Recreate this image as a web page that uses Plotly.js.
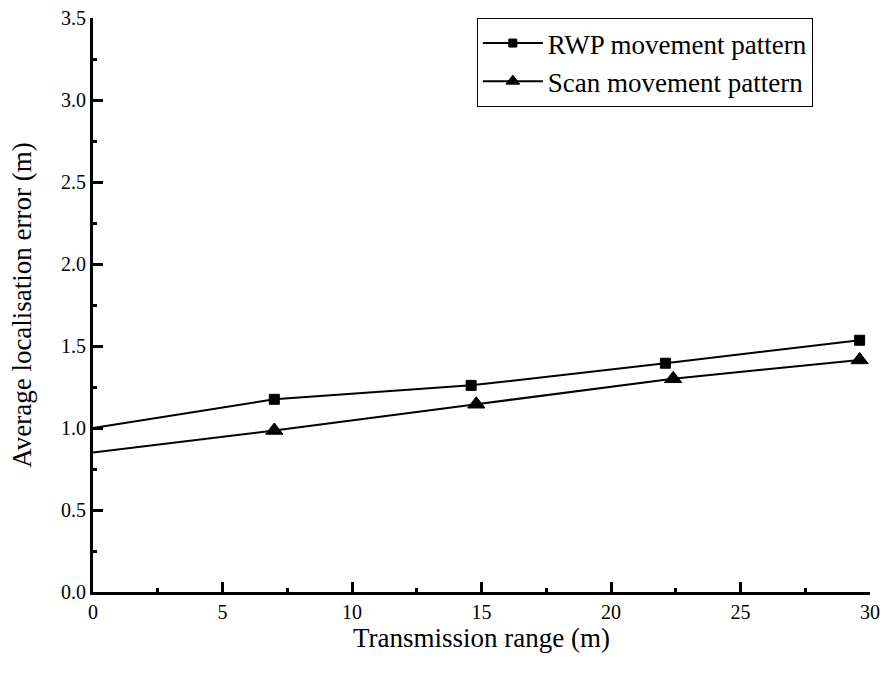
<!DOCTYPE html>
<html>
<head>
<meta charset="utf-8">
<script src="https://cdn.plot.ly/plotly-3.0.1.min.js"></script>
<style>html,body{margin:0;padding:0;background:#fff;}#chart{width:884px;height:677px;}</style>
</head>
<body>
<div id="chart"></div>
<script>
const seriesNames = ["RWP movement pattern", "Scan movement pattern"];
const rwpX = [0, 7.0, 14.6, 22.1, 29.6];
const rwpY = [1.0, 1.175, 1.26, 1.395, 1.535];
const scanX = [0, 7.0, 14.8, 22.4, 29.6];
const scanY = [0.85, 0.985, 1.145, 1.3, 1.415];
const xTitle = "Transmission range (m)";
const yTitle = "Average localisation error (m)";

const font = "'Liberation Serif', 'Times New Roman', serif";
function sizes(xs, s) { return xs.map(v => v === 0 ? 0 : s); }

const traces = [
  {x: rwpX, y: rwpY, name: seriesNames[0], mode: "lines+markers",
   line: {color: "rgb(0,0,0)", width: 2},
   marker: {symbol: "square", color: "rgb(0,0,0)", opacity: 1, size: sizes(rwpX, 10), line: {color: "rgb(0,0,0)", width: 1}}},
  {x: scanX, y: scanY, name: seriesNames[1], mode: "lines+markers",
   line: {color: "rgb(0,0,0)", width: 2},
   marker: {symbol: "triangle-up", color: "rgb(0,0,0)", opacity: 1, size: sizes(scanX, 15), line: {color: "rgb(0,0,0)", width: 1}}}
];

const layout = {
  width: 884, height: 677,
  margin: {l: 93, r: 14, t: 18, b: 85},
  paper_bgcolor: "#fff", plot_bgcolor: "#fff",
  font: {family: font, color: "#000", size: 20},
  showlegend: true,
  legend: {x: 0.494, y: 1.0, xanchor: "left", yanchor: "top",
    bordercolor: "#000", borderwidth: 1, bgcolor: "#fff",
    font: {family: font, size: 27}, itemwidth: 60, tracegroupgap: 0},
  xaxis: {range: [0, 30], dtick: 5, tick0: 0, showgrid: false, zeroline: false,
    showline: true, linecolor: "#000", linewidth: 3, mirror: false,
    ticks: "inside", ticklen: 10, tickwidth: 3, tickcolor: "#000",
    minor: {dtick: 2.5, ticks: "inside", ticklen: 4, tickwidth: 3, tickcolor: "#000", showgrid: false},
    tickfont: {family: font, size: 20},
    title: {text: xTitle, font: {family: font, size: 27}, standoff: 2}},
  yaxis: {range: [0, 3.5], dtick: 0.5, tick0: 0, tickformat: ".1f", showgrid: false, zeroline: false,
    showline: true, linecolor: "#000", linewidth: 3, mirror: false,
    ticks: "inside", ticklen: 10, tickwidth: 3, tickcolor: "#000",
    minor: {dtick: 0.25, ticks: "inside", ticklen: 4, tickwidth: 3, tickcolor: "#000", showgrid: false},
    tickfont: {family: font, size: 20},
    title: {text: yTitle, font: {family: font, size: 27}, standoff: 22}}
};

Plotly.newPlot("chart", traces, layout, {displayModeBar: false, staticPlot: true});
</script>
</body>
</html>
